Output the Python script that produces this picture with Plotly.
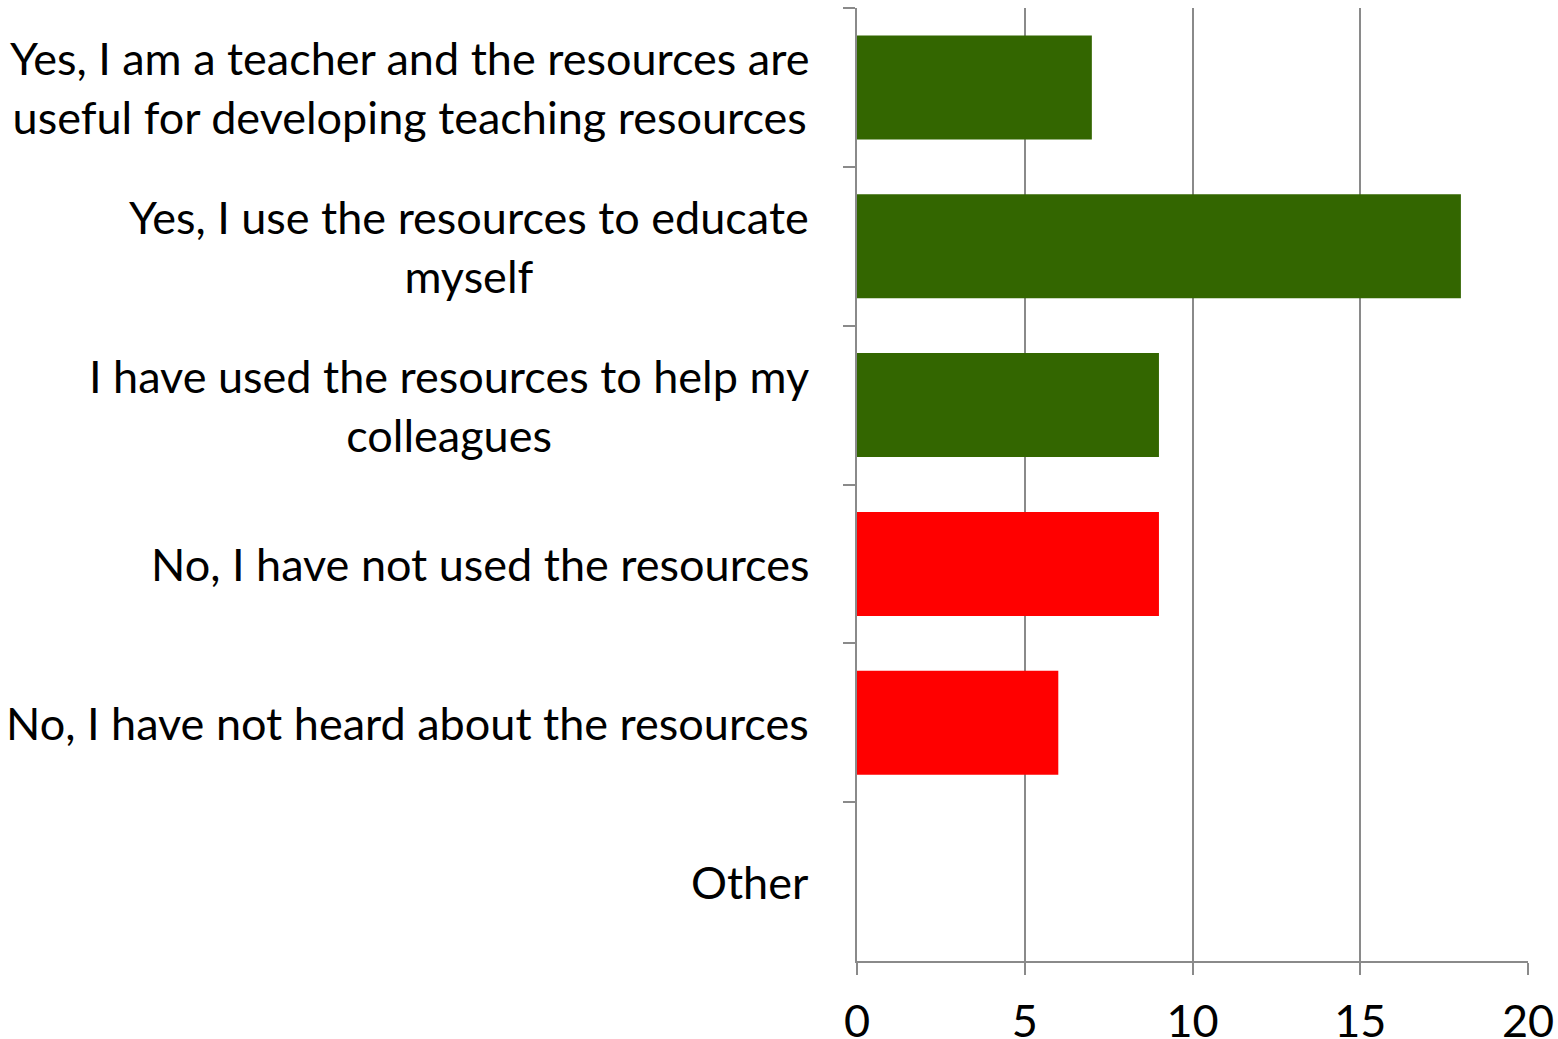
import plotly.graph_objects as go

categories = [
    "Yes, I am a teacher and the resources are<br>useful for developing teaching resources",
    "Yes, I use the resources to educate<br>myself",
    "I have used the resources to help my<br>colleagues",
    "No, I have not used the resources",
    "No, I have not heard about the resources",
    "Other",
]
values = [7, 18, 9, 9, 6, 0]
colors = ["#336600", "#336600", "#336600", "#FF0000", "#FF0000", "#FF0000"]
x_ticks = [0, 5, 10, 15, 20]

FONT = "Lato"
FS = 45
fig = go.Figure()
fig.add_trace(go.Bar(
    x=values, y=categories, orientation="h",
    marker=dict(color=colors, line=dict(width=0)),
    hoverinfo="x+y",
))

for c in categories:
    fig.add_annotation(
        x=0, xref="paper", y=c, yref="y", xanchor="right", yanchor="middle",
        xshift=-46, text=c, showarrow=False, align="center",
        font=dict(family=FONT, size=FS, color="#000000"),
    )

fig.update_layout(
    width=1558, height=1039,
    margin=dict(l=857, r=30, t=8, b=78, autoexpand=False),
    paper_bgcolor="white", plot_bgcolor="white",
    bargap=0.345, showlegend=False,
    font=dict(family=FONT, size=FS, color="#000000"),
)
fig.update_xaxes(
    range=[0, 20], tickvals=x_ticks, ticktext=[str(v) for v in x_ticks],
    showgrid=True, gridcolor="#8a8a8a", gridwidth=2,
    showline=True, linecolor="#8a8a8a", linewidth=2,
    ticks="outside", ticklen=12, tickwidth=2, tickcolor="#8a8a8a",
    zeroline=False, tickfont=dict(family=FONT, size=FS),
    ticklabelstandoff=8, automargin=False,
)
fig.update_yaxes(
    autorange="reversed", showticklabels=False, tickson="boundaries",
    ticks="outside", ticklen=12, tickwidth=2, tickcolor="#8a8a8a",
    showline=True, linecolor="#8a8a8a", linewidth=2, showgrid=False,
    automargin=False,
)
fig.write_html(
    "out.html",
    config={"displayModeBar": False},
    post_script="document.body.style.margin='0';document.body.style.overflow='hidden';",
)
